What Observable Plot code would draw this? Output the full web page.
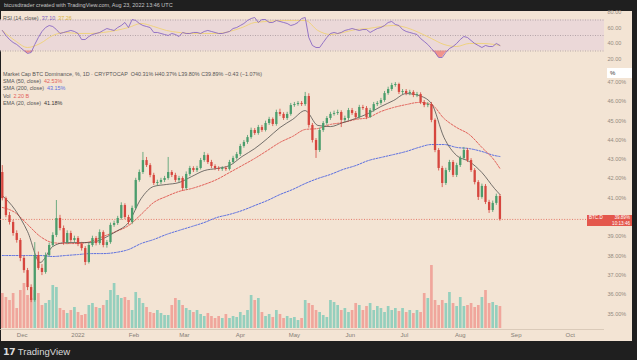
<!DOCTYPE html>
<html><head><meta charset="utf-8">
<script src="https://cdn.jsdelivr.net/npm/d3@7"></script>
<script src="https://cdn.jsdelivr.net/npm/@observablehq/plot@0.6"></script>
<style>
html,body{margin:0;padding:0;background:#1f1f1f;}
#wrap{position:relative;width:637px;height:360px;overflow:hidden;background:#1f1f1f;font-family:"Liberation Sans",Arial,sans-serif;}
#panel{position:absolute;left:1px;top:11px;width:631px;height:330px;background:#f3e4d4;}
.layer{position:absolute;left:0;top:0;}
.txt{position:absolute;white-space:nowrap;}
#hdr{left:4px;top:2px;font-size:5.5px;color:#c4c4c4;}
#leg{left:3px;top:70.5px;font-size:5.4px;line-height:7.4px;color:#555;}
#rsileg{left:3px;top:14.5px;font-size:5.4px;color:#555;}
#pct{left:607px;top:68px;width:25px;height:10px;background:#ffffff;font-size:6px;line-height:10px;color:#333;padding-left:3px;box-sizing:border-box;}
#pbox{left:587px;width:45px;height:10.5px;background:#e4574c;color:#fff;font-size:4.6px;line-height:5.2px;box-sizing:border-box;padding:0 2px;}
#foot{left:3px;top:346px;font-size:9.5px;color:#dadada;}
</style></head>
<body>
<div id="wrap">
  <div id="panel"></div>
</div>
<script>
// ---------- data ----------
const candleStart = "2021-11-20";   // 2-day candles
const firstOpen = 42.32;
const close = [40.97,40.09,39.73,39.16,38.80,37.87,37.24,36.36,35.69,38.02,
37.35,37.14,38.02,38.54,39.06,39.94,39.42,38.69,39.16,38.80,
38.90,38.59,38.38,37.66,38.54,38.90,38.64,39.21,38.54,38.69,
39.58,39.68,39.94,40.61,39.99,39.73,40.46,41.91,42.32,42.94,
42.68,42.17,41.75,41.80,41.91,42.01,42.32,42.17,41.91,42.01,
41.49,42.22,42.53,42.42,42.53,42.94,43.20,42.84,42.63,42.53,
42.48,42.53,42.48,42.84,43.05,43.25,43.67,43.88,44.13,44.50,
44.34,44.65,44.50,44.86,45.07,44.81,45.43,45.33,45.12,45.33,
45.79,45.84,45.90,45.84,46.26,44.76,43.98,43.46,44.50,44.86,
45.12,45.33,45.38,45.43,45.02,45.12,45.53,45.38,45.17,45.69,
45.64,45.17,45.53,45.84,45.90,46.05,46.41,46.62,46.83,46.88,
46.47,46.52,46.41,46.47,46.31,46.36,45.95,45.79,45.84,45.02,
43.46,42.53,41.75,42.42,42.84,42.17,42.68,43.05,43.46,42.94,
42.42,41.80,41.03,41.60,40.77,40.35,40.72,41.08,39.89];
const high = [42.68,41.05,40.25,39.85,39.30,38.90,37.98,37.35,36.50,38.69,
38.20,37.55,38.15,38.66,39.20,40.87,40.10,39.55,39.30,39.28,
39.02,39.00,38.70,38.48,38.65,39.02,39.00,39.35,39.30,38.80,
39.70,39.80,40.05,40.75,40.70,40.10,40.58,42.02,42.45,43.36,
43.10,42.78,42.28,41.92,42.02,42.12,43.10,42.42,42.28,42.12,
42.10,42.35,42.64,42.62,42.64,43.05,43.36,43.28,42.95,42.72,
42.62,42.62,42.62,42.95,43.16,43.36,43.78,43.98,44.24,44.62,
44.60,44.76,44.76,44.98,45.18,45.15,45.55,45.60,45.42,45.44,
45.90,45.95,46.00,46.00,46.47,46.40,44.86,44.08,44.62,44.96,
45.22,45.44,45.50,45.55,45.52,45.24,45.64,45.64,45.48,45.80,
45.80,45.74,45.64,45.95,46.00,46.16,46.52,46.74,46.94,46.98,
46.95,46.62,46.62,46.58,46.56,46.47,46.45,46.05,45.95,45.95,
45.10,43.56,42.64,42.54,42.95,42.94,42.80,43.16,43.62,43.56,
43.04,42.52,41.90,41.72,41.70,40.88,40.84,41.20,41.18];
const low = [40.85,39.98,39.60,39.02,38.66,37.70,37.10,36.20,35.58,35.60,
37.25,36.98,37.05,37.92,38.45,38.95,39.30,38.55,38.58,38.70,
38.70,38.48,38.25,37.50,37.58,38.45,38.52,38.55,38.42,38.40,
38.60,39.48,39.58,39.85,39.88,39.60,39.62,40.38,41.82,42.22,
42.58,42.05,41.65,41.62,41.70,41.80,41.92,42.06,41.80,41.80,
41.35,41.40,42.12,42.32,42.32,42.45,42.85,42.74,42.52,42.42,
42.38,42.38,42.38,42.40,42.75,42.96,43.15,43.58,43.78,44.04,
44.24,44.25,44.40,44.42,44.76,44.70,44.72,45.22,45.02,45.02,
45.24,45.70,45.75,45.74,45.75,44.62,43.85,43.05,43.36,44.40,
44.76,45.02,45.24,45.28,44.65,44.92,45.02,45.28,45.06,45.08,
45.54,45.06,45.12,45.44,45.74,45.80,45.96,46.32,46.52,46.74,
46.36,46.36,46.30,46.30,46.20,46.20,45.84,45.68,45.68,44.90,
43.35,42.40,41.54,41.65,42.32,42.06,42.06,42.58,42.96,42.84,
42.32,41.68,40.87,40.94,40.66,40.20,40.25,40.62,39.80];
const volume = [3.5,3.1,2.8,3.5,2.0,3.8,4.5,3.3,3.0,3.8,
3.5,2.3,2.5,2.8,4.3,4.1,2.0,1.8,1.5,1.8,
2.1,1.6,1.3,1.4,2.3,2.5,2.1,2.0,2.3,2.8,
3.8,4.5,3.3,3.0,3.1,2.8,1.8,3.6,3.0,2.5,
2.1,1.6,1.5,1.8,1.5,1.3,1.3,2.3,3.0,2.8,
2.3,2.0,1.8,1.6,1.8,1.4,1.2,1.5,1.2,1.0,
1.2,1.0,1.4,1.0,1.2,1.1,1.6,1.3,1.8,3.3,
2.8,3.0,1.6,1.2,1.4,1.1,1.8,1.4,1.0,1.2,
1.0,1.1,0.8,1.0,2.8,2.5,2.3,1.8,1.6,1.3,
1.1,2.8,2.6,2.3,1.8,2.0,1.6,1.8,2.5,2.3,
1.8,2.2,2.5,1.8,2.2,2.0,1.6,2.2,1.8,2.0,
1.7,2.0,1.6,1.8,1.5,1.8,1.6,3.5,3.0,6.3,
2.8,2.3,2.8,2.5,3.6,2.5,2.2,3.1,2.2,2.3,
2.5,2.1,2.3,3.1,3.8,2.5,2.6,2.3,2.2];
const rsi = [56.5,50.0,44.8,41.0,38.4,34.5,30.6,26.8,28.1,38.4,
47.4,55.2,60.3,62.9,61.6,57.7,52.6,53.9,55.2,56.5,
55.2,52.6,44.8,44.8,48.7,51.3,52.6,53.9,56.5,59.0,
57.7,56.5,60.3,62.9,66.8,60.3,70.6,69.4,65.5,62.9,
61.6,60.3,53.9,53.9,52.6,51.3,50.0,52.6,51.3,48.7,
53.9,52.6,52.6,53.9,53.9,52.6,55.2,56.5,55.2,53.9,
52.6,52.6,53.9,55.2,59.0,60.3,62.9,65.5,69.4,71.9,
73.2,66.8,70.6,70.6,66.8,66.8,69.4,68.1,66.8,65.5,
62.9,64.2,66.8,71.9,73.2,47.4,37.1,34.5,34.5,41.0,
47.4,52.6,53.9,52.6,53.9,56.5,57.7,59.0,57.7,56.5,
57.7,57.7,53.9,56.5,59.0,60.3,62.9,66.8,68.1,64.2,
62.9,57.7,55.2,53.9,52.6,51.3,46.1,42.3,38.4,33.2,
28.1,21.6,21.6,28.1,33.2,35.8,39.7,44.8,48.7,47.4,
43.5,39.7,37.1,34.5,37.1,35.8,35.8,39.7,37.1];

// indicator lines, read weekly
const maDates = ["2021-11-20","2021-11-27","2021-12-04","2021-12-11","2021-12-18","2021-12-25",
"2022-01-01","2022-01-08","2022-01-15","2022-01-22","2022-01-29","2022-02-05","2022-02-12",
"2022-02-19","2022-02-26","2022-03-05","2022-03-12","2022-03-19","2022-03-26","2022-04-02",
"2022-04-09","2022-04-16","2022-04-23","2022-04-30","2022-05-07","2022-05-14","2022-05-21",
"2022-05-28","2022-06-04","2022-06-11","2022-06-18","2022-06-25","2022-07-02","2022-07-09",
"2022-07-16","2022-07-23","2022-07-30","2022-08-06","2022-08-13","2022-08-20","2022-08-23"];
const ema20 = [41.13,40.40,39.26,37.66,38.49,38.69,38.69,38.69,38.90,39.26,
39.73,40.97,41.60,41.70,41.80,42.11,42.42,42.53,42.68,43.15,
43.56,44.08,44.65,45.07,45.53,44.76,44.70,44.91,45.12,45.38,
45.74,46.05,46.41,46.31,45.90,44.13,43.20,42.89,42.32,41.49,41.18];
const sma50 = [40.51,40.25,39.63,39.01,38.69,38.64,38.64,38.75,39.01,39.26,
39.57,40.15,40.77,41.08,41.34,41.49,41.70,41.96,42.32,42.68,
43.05,43.46,43.88,44.19,44.55,44.60,44.81,44.91,45.07,45.17,
45.48,45.69,45.84,45.95,45.84,45.12,44.65,44.29,43.62,42.94,42.53];
const sma200 = [38.02,38.02,38.02,38.02,37.97,38.02,38.07,38.12,38.12,38.18,
38.33,38.64,38.85,39.11,39.32,39.52,39.73,39.99,40.15,40.35,
40.61,40.87,41.18,41.44,41.75,42.01,42.22,42.48,42.68,42.94,
43.10,43.25,43.41,43.62,43.77,43.77,43.62,43.56,43.41,43.20,43.15];
const rsiMa = [56.5,43.5,34.5,39.7,50.0,53.9,52.6,52.6,53.9,56.5,
60.3,65.5,61.6,56.5,53.9,52.6,52.6,52.6,55.2,60.3,
66.8,68.1,69.4,69.4,69.4,56.5,51.3,53.9,57.7,59.0,
61.6,62.9,60.3,53.9,46.1,38.4,35.8,39.7,39.7,38.4,37.1];

const xTickDates = ["2021-12-01","2022-01-01","2022-02-01","2022-03-01","2022-04-01","2022-05-01",
"2022-06-01","2022-07-01","2022-08-01","2022-09-01","2022-10-01"];
const xTickLabels = ["Dec","2022","Feb","Mar","Apr","May","Jun","Jul","Aug","Sep","Oct"];
const yTicks = [47,46,45,44,43,42,41,39,38,37,36,35];
const rsiTicks = [80,60,40,20];

// ---------- build ----------
const U = s => new Date(s + "T00:00:00Z");
const xDomain = [U("2021-11-19"), U("2022-10-20")];
const day0 = U(candleStart);
const candles = close.map((c, i) => {
  const o = i === 0 ? firstOpen : close[i - 1];
  return {date: d3.utcDay.offset(day0, 2 * i), open: o, close: c, high: high[i], low: low[i],
          volume: volume[i], rsi: rsi[i], up: c >= o};
});
const maRows = maDates.map((d, i) => ({date: U(d), ema20: ema20[i], sma50: sma50[i], sma200: sma200[i], rsiMa: rsiMa[i]}));
const tickDates = xTickDates.map(U);
const tickMap = new Map(tickDates.map((d, i) => [+d, xTickLabels[i]]));
const lastClose = close[close.length - 1];

const UP = "#4a9d6c", DN = "#d6463e";
const common = {width: 637, height: 360, marginLeft: 0, marginRight: 33,
  style: {background: "transparent", overflow: "visible", fontFamily: "Liberation Sans, Arial, sans-serif"}};
const yMainDomain = [34.187, 48.124];

const volPlot = Plot.plot({...common, marginTop: 228, marginBottom: 32,
  x: {type: "utc", domain: xDomain, axis: null},
  y: {domain: [0, 10], axis: null},
  marks: [
    Plot.ruleX(candles, {x: "date", y1: 0, y2: "volume", stroke: d => d.up ? "#95cfbd" : "#f0a69c", strokeWidth: 2.7})
  ]});

const mainPlot = Plot.plot({...common, marginTop: 60, marginBottom: 31,
  x: {type: "utc", domain: xDomain},
  y: {domain: yMainDomain},
  marks: [
    Plot.ruleY([yMainDomain[0]], {stroke: "#d3c3b2", strokeWidth: 0.8}),
    Plot.ruleY([lastClose], {stroke: "#e0604f", strokeDasharray: "1,1.6", strokeWidth: 0.8}),
    Plot.line(maRows, {x: "date", y: "sma200", stroke: "#5a6ee0", strokeDasharray: "2,1.4", strokeWidth: 1, curve: "monotone-x"}),
    Plot.line(maRows, {x: "date", y: "sma50", stroke: "#e2625a", strokeDasharray: "2,1.4", strokeWidth: 1, curve: "monotone-x"}),
    Plot.line(maRows, {x: "date", y: "ema20", stroke: "#3c3c3c", strokeWidth: 0.7, curve: "monotone-x"}),
    Plot.ruleX(candles, {x: "date", y1: "low", y2: "high", stroke: d => d.up ? UP : DN, strokeWidth: 0.8}),
    Plot.ruleX(candles, {x: "date", y1: "open", y2: "close", stroke: d => d.up ? UP : DN, strokeWidth: 2.3}),
    Plot.axisX({ticks: tickDates, tickFormat: d => tickMap.get(+d), tickSize: 0, tickPadding: 3, fontSize: 6, fill: "#857e76", label: null}),
    Plot.axisY({anchor: "right", ticks: yTicks, tickFormat: d => d.toFixed(2) + "%", tickSize: 0, tickPadding: 3, fontSize: 5.5, fill: "#938a80", label: null})
  ]});

const rsiPlot = Plot.plot({...common, marginTop: 11, marginBottom: 301,
  x: {type: "utc", domain: xDomain, axis: null},
  y: {domain: [19.03, 80.97]},
  marks: [
    Plot.rect([{x1: xDomain[0], x2: xDomain[1], y1: 30, y2: 70}], {x1: "x1", x2: "x2", y1: "y1", y2: "y2", fill: "#ebd8d8"}),
    Plot.areaY(candles, {x: "date", y1: 30, y2: d => Math.min(d.rsi, 30), fill: "#f0857f", fillOpacity: 0.85}),
    Plot.ruleY([30, 50, 70], {stroke: "#9d9197", strokeDasharray: "1,1.5", strokeWidth: 0.7}),
    Plot.line(maRows, {x: "date", y: "rsiMa", stroke: "#f0d16a", strokeWidth: 0.8, curve: "monotone-x"}),
    Plot.line(candles, {x: "date", y: "rsi", stroke: "#7e5ac0", strokeWidth: 0.8}),
    Plot.axisY({anchor: "right", ticks: rsiTicks, tickFormat: d => d.toFixed(2), tickSize: 0, tickPadding: 3, fontSize: 5.5, fill: "#938a80", label: null})
  ]});

const wrap = document.getElementById("wrap");
for (const p of [volPlot, mainPlot, rsiPlot]) { p.classList.add("layer"); wrap.appendChild(p); }

function addText(id, html) {
  const d = document.createElement("div");
  d.id = id; d.className = "txt"; d.innerHTML = html; wrap.appendChild(d); return d;
}
addText("hdr", "btcusdtrader created with TradingView.com, Aug 23, 2022 13:46 UTC");
addText("rsileg", 'RSI (14, close)&nbsp; <span style="color:#7e5ac0">37.10</span>&nbsp; <span style="color:#d8b440">37.26</span>');
addText("leg",
  'Market Cap BTC Dominance, %, 1D · CRYPTOCAP&nbsp; O40.31% H40.37% L39.80% C' + lastClose.toFixed(2) + '% −0.43 (−1.07%)<br>' +
  'SMA (50, close)&nbsp; <span style="color:#e2625a">' + sma50[sma50.length-1].toFixed(2) + '%</span><br>' +
  'SMA (200, close)&nbsp; <span style="color:#5a6ee0">' + sma200[sma200.length-1].toFixed(2) + '%</span><br>' +
  'Vol&nbsp; <span style="color:#e2625a">' + volume[volume.length-1].toFixed(2) + ' B</span><br>' +
  'EMA (20, close)&nbsp; <span style="color:#333">' + ema20[ema20.length-1].toFixed(2) + '%</span>');
addText("pct", "%");
const py = mainPlot.scale("y").apply(lastClose);
const pb = addText("pbox", '<div style="display:flex;justify-content:space-between"><span>BTC.D</span><span>' + lastClose.toFixed(2) + '%</span></div><div style="text-align:right">10:13:46</div>');
pb.style.top = (py - 3.5) + "px";
addText("foot", '<b style="font-weight:900;letter-spacing:-0.5px;font-family:DejaVu Sans,sans-serif">17</b>&nbsp;TradingView');
</script>
</body></html>
